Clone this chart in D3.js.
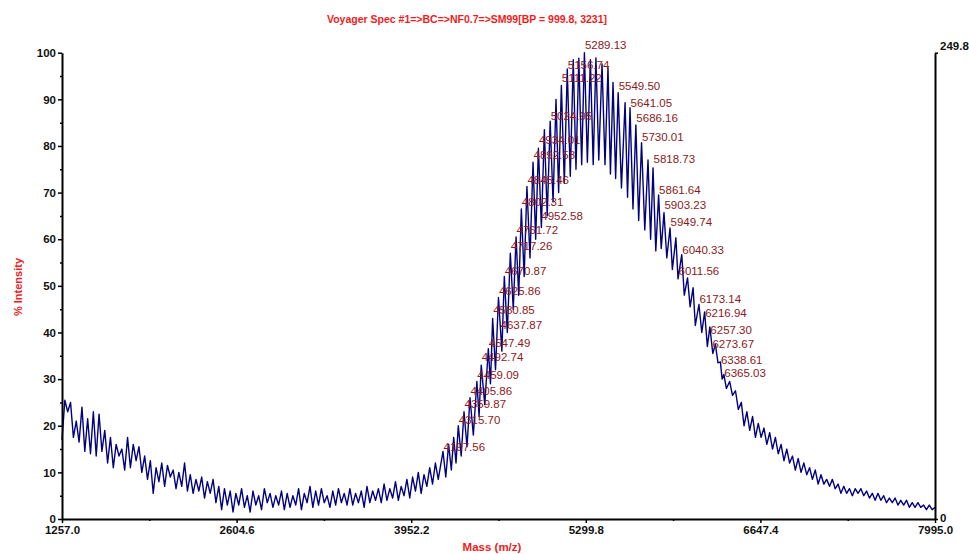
<!DOCTYPE html>
<html><head><meta charset="utf-8">
<script src="https://cdn.jsdelivr.net/npm/d3@7"></script>
<style>body{margin:0;background:#fff}svg{display:block}</style>
</head><body><svg id="c" width="969" height="554"></svg>
<script>
// ---------- data ----------
const titleText = "Voyager Spec #1=>BC=>NF0.7=>SM99[BP = 999.8, 3231]";
const xTicks = [1257.0, 2604.6, 3952.2, 5299.8, 6647.4, 7995.0];
const xMinorTicks = [1930.8, 3278.4, 4626.0, 5973.6, 7321.2];
const yTicks = [0,10,20,30,40,50,60,70,80,90,100];
const yMinorTicks = [5,15,25,35,45,55,65,75,85,95];
const rightTicks = [0, 249.8];

// baseline (left) sampled every 22 Da from 1257
const leftNoiseStart = 1257, leftNoiseStep = 22;
const leftNoise = [17,25.5,23,25,17.5,21,16.5,24,14.5,21.5,
14,23,13.5,22.5,14.5,19,12,17.5,11,16,
13.5,15,10.5,17.5,11,16,12.5,15.5,10,13.5,
8.5,12.5,5.5,11,8,12,7,11.5,9,10.5,
6.5,10,7,12,6,9.5,5.5,8.5,6,9,
4.5,8,5.5,8.5,3.5,7,2,6.5,3,6,
1.5,5.5,3,6.5,2.5,5,1.5,6,3,5,
2,6.5,3.5,5.5,2.5,5,3,6,2,5.5,
2.5,5,3,6.5,2,5.5,3.5,7,2.5,6,
3,6.5,3.5,5,2.5,6,3,6.5,3.5,5.5,
3,6.5,3,5.5,3.5,6,2.5,7,3.5,6,
4,6.5,3.5,7.5,4,6.5,4.5,8,4,7,
5,8.5,4.5,9,6,10,5.5,9.5,7,11,
7.5,12,8.5];

// oligomer peak series
const peakMass = [4197.56,4241,4280,4315.70,4359.87,4405.86,4459.09,4492.74,4547.49,4580.85,
4625.86,4670.87,4717.26,4761.72,4802.31,4845.46,4892.58,4934.01,4980,5024.95,
5070,5111.22,5156.74,5203,5246,5289.13,5335,5378,5425,5471,
5510,5549.50,5603,5641.05,5686.16,5730.01,5780,5818.73,5861.64,5903.23,
5949.74,5995,6040.33,6085,6128,6173.14,6216.94,6257.30,6300,6338.61,
6365.03,6410,6455,6500];
const peakHeight = [14.5,16,17.5,20,23,26,29.5,33,36.5,43,
47.5,52,57,60.5,66.5,71.3,76.5,79.5,83.5,85.3,
90,93,96.5,98.5,98.8,100,98.5,98.9,97.6,96.8,
93.6,91.4,89.3,88.2,84.5,80.7,77,75.3,69.5,65.7,
62.4,60.3,56.7,51.7,49.6,46,44.4,41.2,37.5,33.7,
31,29.5,27.5,25];
const valleyMass = [4219,4262,4298,4338,4383,4432,4476,4520,4564,4603,
4652,4694,4740,4782,4824,4869,4913,4957,5002,5047,
5090,5134,5180,5224,5268,5312,5357,5400,5448,5490,
5530,5575,5622,5664,5708,5755,5800,5840,5882,5925,
5968,6011.56,6060,6105,6145,6195,6238,6280,6320,6352,
6385,6432,6477];
const valleyHeight = [9,10.5,12,13.5,15.5,18,22,24.5,29,32,
36,40,45,48,52,56,60,62.5,65,68,
70,72,73.5,75,76,76.5,76,77,76,74,
73,71,69,66.5,64,62,60,57.5,58,56,
53.5,51.5,48,45.5,41.5,40,37,35.5,33.5,30,
28,26.5,23.5];

// baseline (right) sampled every 22 Da from 6521
const rightNoiseStart = 6521, rightNoiseStep = 22;
const rightNoise = [20,23,19,22,17.5,20.5,17.5,19.5,16,18.5,
15,17.5,14,16,12.5,15,12,13.5,10.5,13,
10,12,9.5,11,8.5,10.5,7.5,9.5,7.5,8.5,
7,8.5,6.5,7.5,5.5,7,5.5,6.5,5,6.5,
5.5,6.5,5,6,4.5,5.5,4,5.5,4,5,
3.5,4.5,3.5,4.5,3,4,3,4,2.5,3.5,
2.5,3.5,2.5,3,2,3,2,2.5];

// peak annotations: mass and level of the label centre (% intensity)
const labelMass = [5289.13,5156.74,5111.22,5549.50,5641.05,5686.16,5024.95,5730.01,4934.01,4892.58,
5818.73,4845.46,5861.64,4802.31,5903.23,4952.58,5949.74,4761.72,4717.26,6040.33,
4670.87,6011.56,4625.86,6173.14,4580.85,6216.94,4637.87,6257.30,4547.49,6273.67,
4492.74,6338.61,6365.03,4459.09,4405.86,4359.87,4315.70,4197.56];
const labelLevel = [101.7,97.4,94.5,92.9,89.3,86.1,86.5,82.0,81.2,78.1,
77.3,72.7,70.6,68.0,67.3,64.9,63.6,61.9,58.6,57.6,
53.2,53.2,48.9,47.2,44.8,44.1,41.6,40.6,37.7,37.6,
34.8,34.1,31.3,30.8,27.5,24.6,21.2,15.5];

// ---------- build series ----------
const pts = [];
leftNoise.forEach((v,i)=>pts.push([leftNoiseStart + i*leftNoiseStep, v]));
peakMass.forEach((m,i)=>pts.push([m, peakHeight[i]]));
valleyMass.forEach((m,i)=>pts.push([m, valleyHeight[i]]));
rightNoise.forEach((v,i)=>pts.push([rightNoiseStart + i*rightNoiseStep, v]));
pts.sort((a,b)=>a[0]-b[0]);

// ---------- chart ----------
const svg = d3.select("#c");
const FONT = "'Liberation Sans', Arial, Helvetica, sans-serif";
const x = d3.scaleLinear().domain([1257, 7995]).range([62, 935]);
const y = d3.scaleLinear().domain([0, 100]).range([519, 52.7]);
const yR = d3.scaleLinear().domain([0, 249.8]).range([519, 52.7]);

// title
svg.append("text").attr("x", 467).attr("y", 19).attr("dy","0.35em")
  .attr("text-anchor","middle").attr("font-family",FONT).attr("font-weight","bold")
  .attr("font-size","10.5px").attr("fill","#f01c1c").text(titleText);

// spectrum
svg.append("path").datum(pts)
  .attr("d", d3.line().x(d=>x(d[0])).y(d=>y(d[1])))
  .attr("fill","none").attr("stroke","#000080").attr("stroke-width",1.4)
  .attr("stroke-linejoin","round");

// labels
svg.append("g").selectAll("text").data(labelMass).join("text")
  .attr("x", d=>x(d)+0.5)
  .attr("y", (d,i)=>y(labelLevel[i]))
  .attr("dy","0.35em")
  .attr("font-family",FONT).attr("font-size","11.5px").attr("fill","#8b1a1a")
  .text(d=>d.toFixed(2));

// left axis
const gL = svg.append("g").attr("transform","translate(62,0)")
  .call(d3.axisLeft(y).tickValues(yTicks).tickSize(4).tickSizeOuter(0).tickPadding(2).tickFormat(d3.format("d")));
gL.append("g").call(d3.axisLeft(y).tickValues(yMinorTicks).tickSize(2).tickSizeOuter(0).tickFormat(""))
  .select(".domain").remove();

// bottom axis
const gB = svg.append("g").attr("transform","translate(0,519)")
  .call(d3.axisBottom(x).tickValues(xTicks).tickSize(4).tickSizeOuter(0).tickPadding(3).tickFormat(d3.format(".1f")));
gB.append("g").call(d3.axisBottom(x).tickValues(xMinorTicks).tickSize(2).tickSizeOuter(0).tickFormat(""))
  .select(".domain").remove();

// right axis
const gR = svg.append("g").attr("transform","translate(935,0)")
  .call(d3.axisRight(yR).tickValues(rightTicks).tickSize(3).tickSizeOuter(0).tickPadding(2)
    .tickFormat(d=> d===0 ? "0" : "249.8"));
gR.selectAll(".tick text").filter(d=>d!==0).attr("dy","-0.25em");
gR.selectAll(".tick text").filter(d=>d===0).attr("dy","0.2em");

[gL,gB,gR].forEach(g=>{
  g.selectAll(".domain").attr("stroke","#000").attr("stroke-width",2);
  g.selectAll(".tick line").attr("stroke","#000").attr("stroke-width",1.5);
  g.selectAll(".tick text").attr("font-family",FONT).attr("font-weight","bold")
    .attr("font-size","11.5px").attr("fill","#111");
});

// axis titles
svg.append("text").attr("transform","translate(18,287) rotate(-90)")
  .attr("text-anchor","middle").attr("dy","0.35em")
  .attr("font-family",FONT).attr("font-weight","bold").attr("font-size","11px")
  .attr("fill","#f01c1c").text("% Intensity");
svg.append("text").attr("x",492).attr("y",547).attr("dy","0.35em")
  .attr("text-anchor","middle")
  .attr("font-family",FONT).attr("font-weight","bold").attr("font-size","11.5px")
  .attr("fill","#f01c1c").text("Mass (m/z)");
</script></body></html>
